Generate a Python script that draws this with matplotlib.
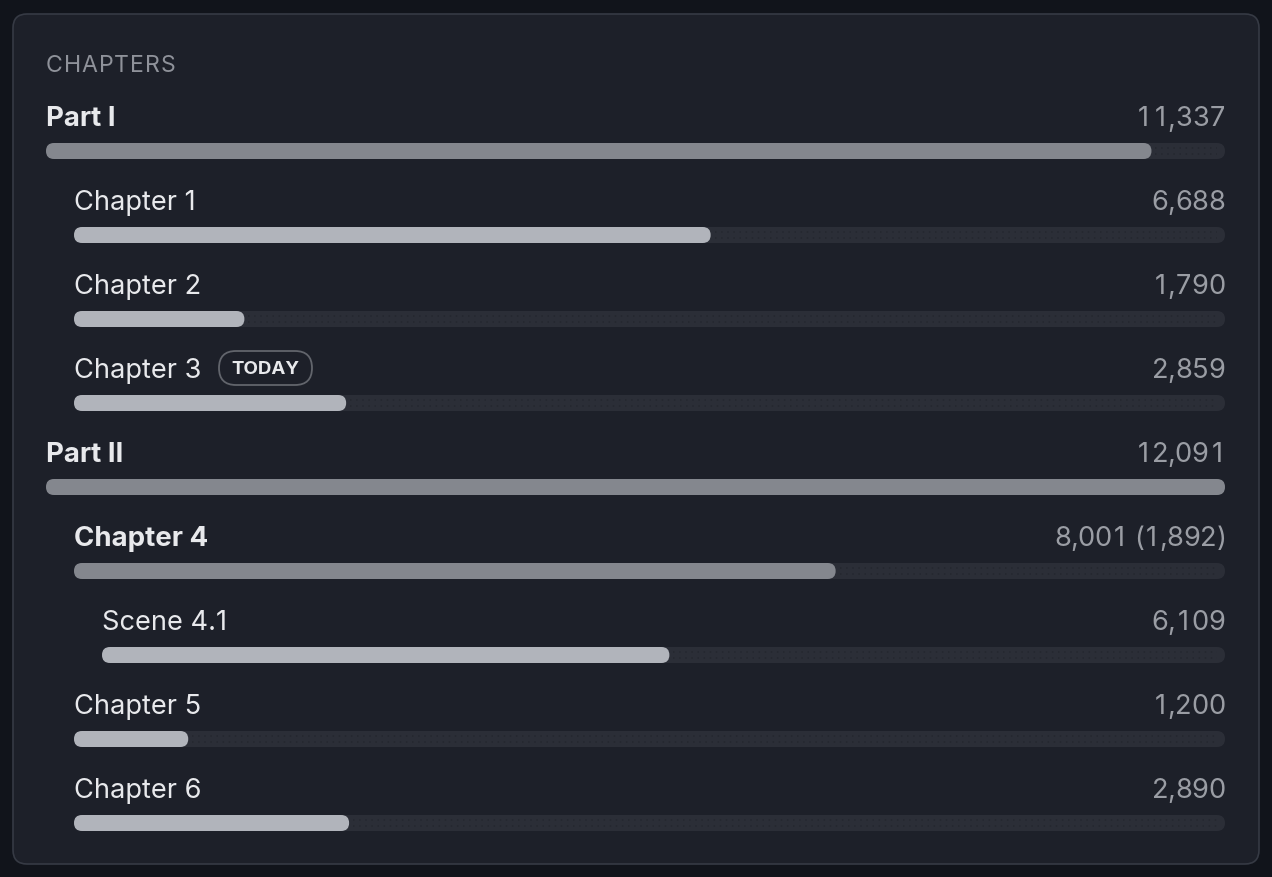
import matplotlib.pyplot as plt
from matplotlib.patches import FancyBboxPatch
from matplotlib.font_manager import FontProperties, findfont, get_font

# rows of the chapter list
labels = ["Part I", "Chapter 1", "Chapter 2", "Chapter 3", "Part II",
          "Chapter 4", "Scene 4.1", "Chapter 5", "Chapter 6"]
levels = [0, 1, 1, 1, 0, 1, 2, 1, 1]
values = [11337, 6688, 1790, 2859, 12091, 8001, 6109, 1200, 2890]
value_text = ["11,337", "6,688", "1,790", "2,859", "12,091",
              "8,001 (1,892)", "6,109", "1,200", "2,890"]
bold_rows = [0, 4, 5]
badge_row = 3
badge_text = "TODAY"
title = "CHAPTERS"

W, H = 1272, 878
BG = "#11141b"
CARD = "#1d2029"
BORDER = "#363a44"
TRACK = "#2b2e37"
DOTS = "#24272f"
FILL_DARK = "#84878e"
FILL_LIGHT = "#b1b4bb"
LABEL = "#e8e9ec"
VALUE = "#9a9da4"
FS = 19.6

plt.rcParams['font.family'] = ['Inter', 'DejaVu Sans']

fig = plt.figure(figsize=(W / 100, H / 100), dpi=100, facecolor=BG)
ax = fig.add_axes([0, 0, 1, 1])
ax.set_xlim(0, W)
ax.set_ylim(H, 0)
ax.axis('off')

_font = get_font(findfont(FontProperties(family='Inter')))


def advance(ch, size):
    # horizontal advance of one glyph in pixels (dpi 100)
    _font.set_size(size, 100)
    g = _font.load_char(ord(ch))
    return g.linearHoriAdvance / 65536


def spaced_text(x, y, s, size, color, spacing=0.0, tabular=False, align='left', **kw):
    # draw text char by char: optional letter spacing and tabular digits
    digit_ws = sorted(advance(d, size) for d in "0123456789")
    digit_w = digit_ws[len(digit_ws) // 2]
    cells = []
    for ch in s:
        a = advance(ch, size)
        if tabular:
            cw = digit_w if ch.isdigit() else a * 0.85
        else:
            cw = a
        cells.append((ch, a, cw + spacing))
    total = sum(c[2] for c in cells) - spacing
    cx = x - total if align == 'right' else x
    for ch, a, cw in cells:
        if ch != ' ':
            ax.text(cx + (cw - spacing - a) / 2, y, ch, fontsize=size, color=color,
                    ha='left', va='baseline', **kw)
        cx += cw


# card
ax.add_patch(FancyBboxPatch((13, 15), 1246, 850, boxstyle="round,pad=0,rounding_size=14",
                            facecolor=CARD, edgecolor=BORDER, linewidth=1.2))

spaced_text(46, 72, title, 16.6, "#8f929a", spacing=0.9)

max_val = max(values)
x_right = 1225
bar_h = 16
for i, (lab, lev, val, vt) in enumerate(zip(labels, levels, values, value_text)):
    base_y = 126.5 + 84 * i
    bar_y = 152 + 84 * i
    x0 = 46 + 28 * lev
    width = x_right - x0
    bold = i in bold_rows
    ax.text(x0, base_y, lab, color=LABEL, fontsize=FS + (0.3 if bold else 0), va='baseline',
            ha='left', fontweight='bold' if bold else 'normal')
    spaced_text(x_right + 0.5, base_y, vt, FS, VALUE, tabular=True, align='right')

    # track
    ax.add_patch(FancyBboxPatch((x0, bar_y - bar_h / 2), width, bar_h,
                                boxstyle="round,pad=0,rounding_size=8",
                                facecolor=TRACK, edgecolor='none'))
    fill_w = val / max_val * width
    # subtle dotted texture on the empty part of the track
    if fill_w < width - 12:
        for dy in (-3, 3):
            ax.plot([x0 + fill_w + 4, x_right - 8], [bar_y + dy] * 2, color=DOTS,
                    linewidth=1.1, linestyle=(0, (1, 3)))
    # fill
    ax.add_patch(FancyBboxPatch((x0, bar_y - bar_h / 2), fill_w, bar_h,
                                boxstyle="round,pad=0,rounding_size=8",
                                facecolor=FILL_DARK if bold else FILL_LIGHT, edgecolor='none'))

    if i == badge_row:
        text_y = 117 + 84 * i
        ax.add_patch(FancyBboxPatch((219, text_y - 17), 93, 34,
                                    boxstyle="round,pad=0,rounding_size=17",
                                    facecolor='none', edgecolor="#62656c", linewidth=1.3))
        ax.text(265.5, text_y + 0.5, badge_text, color=LABEL, fontsize=13.5, fontweight='bold',
                va='center', ha='center')

fig.savefig("out.png", dpi=100, facecolor=BG)
